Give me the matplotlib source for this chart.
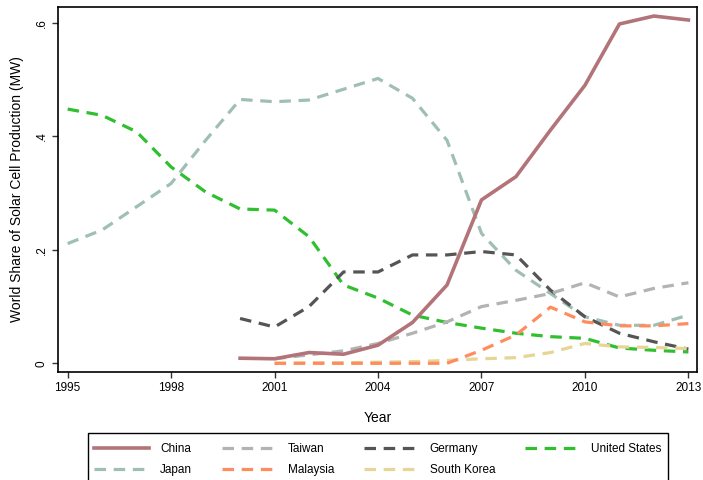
import matplotlib.pyplot as plt
from matplotlib.patches import Rectangle

plt.rcParams['font.family'] = ['Liberation Sans', 'DejaVu Sans']

years = list(range(1995, 2014))
years_00 = list(range(2000, 2014))
years_01 = list(range(2001, 2014))

us = [0.448, 0.437, 0.408, 0.346, 0.302, 0.272, 0.270, 0.223, 0.138, 0.115,
      0.085, 0.072, 0.062, 0.053, 0.047, 0.044, 0.027, 0.023, 0.020]
japan = [0.211, 0.235, 0.276, 0.317, 0.393, 0.465, 0.461, 0.464, 0.483, 0.502,
         0.467, 0.393, 0.229, 0.164, 0.123, 0.082, 0.067, 0.067, 0.085]
germany = [0.079, 0.064, 0.100, 0.161, 0.161, 0.191, 0.191, 0.197, 0.191,
           0.129, 0.082, 0.053, 0.038, 0.025]
china = [0.009, 0.008, 0.019, 0.016, 0.032, 0.072, 0.138, 0.288, 0.329,
         0.411, 0.490, 0.598, 0.612, 0.605]
taiwan = [0.008, 0.015, 0.022, 0.035, 0.053, 0.073, 0.100, 0.111, 0.123,
          0.142, 0.117, 0.132, 0.142]
malaysia = [0.0, 0.0, 0.0, 0.0, 0.0, 0.0, 0.023, 0.050, 0.099, 0.073,
            0.066, 0.066, 0.070]
korea = [0.0, 0.001, 0.001, 0.002, 0.003, 0.005, 0.008, 0.010, 0.019,
         0.035, 0.029, 0.028, 0.026]

W, H = 703, 480
fig = plt.figure(figsize=(W / 100, H / 100), dpi=100)
ax = fig.add_axes([0.0825, 0.225, 0.909, 0.7605])

lw = 2.3
dash = (0, (3.6, 2.4))
l_us, = ax.plot(years, us, color='#2fbf2f', lw=lw, ls=dash, label='United States')
l_jp, = ax.plot(years, japan, color='#9fbfb6', lw=lw, ls=dash, label='Japan')
l_de, = ax.plot(years_00, germany, color='#555555', lw=lw, ls=dash, label='Germany')
l_ko, = ax.plot(years_01, korea, color='#e6d596', lw=lw, ls=dash, label='South Korea')
l_my, = ax.plot(years_01, malaysia, color='#ff8c5e', lw=lw, ls=dash, label='Malaysia')
l_tw, = ax.plot(years_01, taiwan, color='#b3b3b3', lw=lw, ls=dash, label='Taiwan')
l_cn, = ax.plot(years_00, china, color='#b37479', lw=lw + 0.3, ls='-', label='China')

ax.set_xlim(1994.72, 2013.25)
ax.set_ylim(-0.0153, 0.628)
ax.set_xticks([1995, 1998, 2001, 2004, 2007, 2010, 2013])
ax.set_yticks([0, 0.2, 0.4, 0.6])
ax.set_yticklabels(['0', '.2', '.4', '.6'], rotation=90, va='center')
ax.tick_params(labelsize=8.5, length=4, width=1, color='#333333')
for s in ax.spines.values():
    s.set_linewidth(1.2)
ax.set_xlabel('Year', fontsize=10, labelpad=12)
ax.set_ylabel('World Share of Solar Cell Production (MW)', fontsize=10, labelpad=8)

# legend box runs off the bottom of the picture
fig.patches.append(Rectangle((88 / W, -0.05), (668 - 88) / W, 0.05 + 1 - 433 / H,
                             transform=fig.transFigure, fill=False,
                             edgecolor='black', lw=1.0))

handles = [l_cn, l_jp, l_tw, l_my, l_de, l_ko, l_us]
fig.legend(handles, [h.get_label() for h in handles], ncol=4,
           loc='upper left', bbox_to_anchor=(94 / W, 1 - 443 / H),
           fontsize=8.5, frameon=False, handlelength=4.7, handletextpad=0.9,
           borderpad=0, borderaxespad=0, labelspacing=0.8, columnspacing=2.5)

fig.savefig('out.png', dpi=100)
